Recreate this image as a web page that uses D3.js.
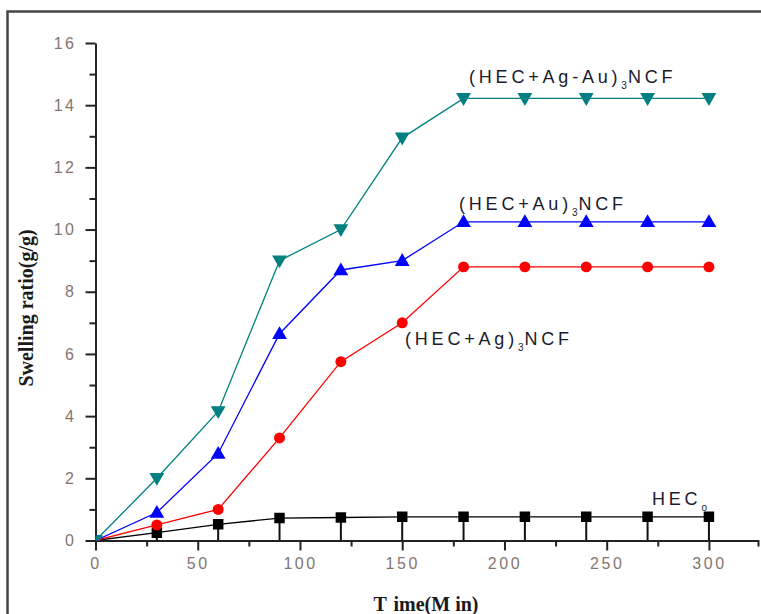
<!DOCTYPE html>
<html><head><meta charset="utf-8">
<script src="https://cdn.jsdelivr.net/npm/d3@7"></script>
<style>body{margin:0;background:#fff;} svg{display:block;}</style>
</head><body>
<svg id="c" width="761" height="614"></svg>
<script>
const times = [0, 30, 60, 90, 120, 150, 180, 210, 240, 270, 300];
const agAu = [0, 2.0, 4.15, 9.0, 10.0, 12.95, 14.22, 14.22, 14.22, 14.22, 14.22];
const au   = [0, 0.9, 2.8, 6.65, 8.7, 9.0, 10.25, 10.25, 10.25, 10.25, 10.25];
const ag   = [0, 0.5, 1.0, 3.3, 5.75, 7.0, 8.8, 8.8, 8.8, 8.8, 8.8];
const hec  = [0, 0.25, 0.52, 0.72, 0.74, 0.76, 0.76, 0.76, 0.76, 0.76, 0.76];
const xTicks = [0, 50, 100, 150, 200, 250, 300];
const yTicks = [0, 2, 4, 6, 8, 10, 12, 14, 16];

const svg = d3.select("#c");
const x = d3.scaleLinear().domain([0, 324]).range([95.5, 758]);
const y = d3.scaleLinear().domain([0, 16]).range([540.5, 43]);

// outer frame
svg.append("rect").attr("x", 7.5).attr("y", 11.5).attr("width", 800).attr("height", 700)
  .attr("fill", "none").attr("stroke", "#444").attr("stroke-width", 2.5);

svg.append("defs").append("clipPath").attr("id", "clip")
  .append("rect").attr("x", x(0)).attr("y", 0).attr("width", 700).attr("height", y(0));

const tickColor = "#857570";
// y axis
svg.append("g").attr("transform", `translate(${x(0)},0)`)
  .call(d3.axisLeft(y).tickValues(yTicks).tickSize(10).tickPadding(9).tickSizeOuter(0));
svg.append("g").attr("transform", `translate(${x(0)},0)`)
  .call(d3.axisLeft(y).tickValues(d3.range(1, 16, 2)).tickSize(6).tickFormat("").tickSizeOuter(0))
  .select(".domain").remove();
// x axis
svg.append("g").attr("transform", `translate(0,${y(0)})`)
  .call(d3.axisBottom(x).tickValues(xTicks).tickSize(10).tickPadding(7).tickSizeOuter(6));
svg.append("g").attr("transform", `translate(0,${y(0)})`)
  .call(d3.axisBottom(x).tickValues(d3.range(25, 325, 50)).tickSize(6).tickFormat("").tickSizeOuter(0))
  .select(".domain").remove();

svg.selectAll(".domain").attr("stroke", "#222").attr("stroke-width", 2);
svg.selectAll(".tick line").attr("stroke", "#222").attr("stroke-width", 2);
svg.selectAll(".tick text").attr("fill", tickColor)
  .style("font-family", "'Liberation Sans', Arial, sans-serif").style("font-size", "16px")
  .style("letter-spacing", "2.5px");

// axis titles
svg.append("text").attr("transform", "translate(33,308) rotate(-90)")
  .attr("text-anchor", "middle").style("font-family", "'Liberation Serif', 'Times New Roman', serif")
  .style("font-weight", "bold").style("font-size", "20px").attr("fill", "#1a1a1a")
  .text("Swelling ratio(g/g)");
const xt = svg.append("text").attr("x", 426).attr("y", 611).attr("text-anchor", "middle")
  .style("font-family", "'Liberation Serif', 'Times New Roman', serif")
  .style("font-weight", "bold").style("font-size", "20px").attr("fill", "#1a1a1a");
xt.append("tspan").text("T");
xt.append("tspan").attr("dx", 7).text("ime(M");
xt.append("tspan").attr("dx", 5).text("in)");

const plot = svg.append("g").attr("clip-path", "url(#clip)");
const series = [
  {vals: hec, color: "#000000", sym: d3.symbolSquare, size: 110, rot: 0, err: true},
  {vals: ag, color: "#ff0000", sym: d3.symbolCircle, size: 95, rot: 0},
  {vals: au, color: "#0000ff", sym: d3.symbolTriangle, size: 95, rot: 0},
  {vals: agAu, color: "#008080", sym: d3.symbolTriangle, size: 95, rot: 180}
];
const line = d3.line().x((d, i) => x(times[i])).y(d => y(d));
series.forEach(s => {
  if (s.err) {
    plot.selectAll(null).data(s.vals).enter().append("line")
      .attr("x1", (d, i) => x(times[i])).attr("x2", (d, i) => x(times[i]))
      .attr("y1", d => y(d)).attr("y2", y(0))
      .attr("stroke", "#111").attr("stroke-width", 2);
  }
  plot.append("path").datum(s.vals).attr("d", line).attr("fill", "none")
    .attr("stroke", s.color).attr("stroke-width", 1.3);
  plot.selectAll(null).data(s.vals).enter().append("path")
    .attr("d", d3.symbol().type(s.sym).size(s.size))
    .attr("transform", (d, i) => `translate(${x(times[i])},${y(d) + (s.sym === d3.symbolTriangle ? (s.rot ? -1 : 1) : 0)}) rotate(${s.rot})`)
    .attr("fill", s.color);
});

// series labels
function label(px, py, main, sub, tail) {
  const t = svg.append("text").attr("x", px).attr("y", py)
    .style("font-family", "'Liberation Sans', Arial, sans-serif").style("font-size", "18px")
    .style("letter-spacing", "3.8px").attr("fill", "#1b1b2e");
  t.append("tspan").text(main);
  t.append("tspan").attr("dy", 6).style("font-size", "10px").style("letter-spacing", "0px").text(sub);
  if (tail) t.append("tspan").attr("dy", -6).attr("dx", 1).text(tail);
}
label(469, 83, "(HEC+Ag-Au)", "3", "NCF");
label(459, 210, "(HEC+Au)", "3", "NCF");
label(405, 345, "(HEC+Ag)", "3", "NCF");
label(652, 505, "HEC", "o", "");
</script>
</body></html>
